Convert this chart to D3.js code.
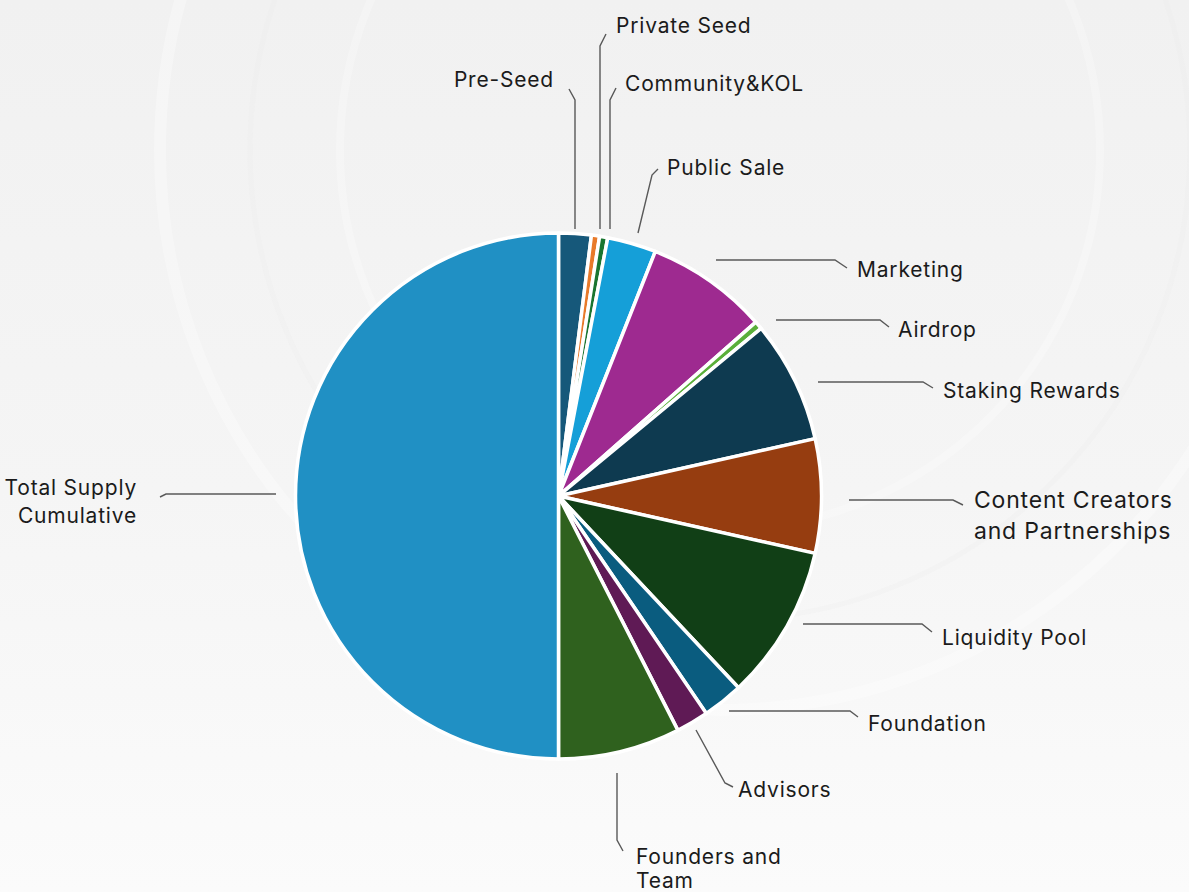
<!DOCTYPE html>
<html>
<head>
<meta charset="utf-8">
<script src="https://cdn.jsdelivr.net/npm/d3@7"></script>
<style>
  html, body { margin: 0; padding: 0; background: #f6f6f6; }
  svg { display: block; }
  text { font-family: Inter, "Noto Sans", sans-serif; fill: #1b1b1b; }
</style>
</head>
<body>
<svg id="chart" width="1189" height="892"></svg>
<script>
// ---- data ----
const categories = [
  "Pre-Seed", "Private Seed", "Community&KOL", "Public Sale", "Marketing", "Airdrop",
  "Staking Rewards", "Content Creators and Partnerships", "Liquidity Pool", "Foundation",
  "Advisors", "Founders and Team", "Total Supply Cumulative"
];
const values = [2, 0.5, 0.5, 3, 7.5, 0.5, 7.5, 7, 9.5, 2.5, 2, 7.5, 50];
const labelLines = [
  ["Pre-Seed"], ["Private Seed"], ["Community&KOL"], ["Public Sale"], ["Marketing"], ["Airdrop"],
  ["Staking Rewards"], ["Content Creators", "and Partnerships"], ["Liquidity Pool"], ["Foundation"],
  ["Advisors"], ["Founders and", "Team"], ["Total Supply", "Cumulative"]
];

// ---- styling / layout (not data) ----
const colors = ["#16587a", "#e87a2a", "#1a7530", "#159fd8", "#9e2a90", "#5aaf3a",
  "#0e3a50", "#963d10", "#113f16", "#0a5c7f", "#5f1a55", "#2f611e", "#2090c4"];
// leader line points and text anchor for each label
const labelLayout = [
  { pts: [[575,229],[575,100],[569,89]],  tx: 554, ty: 87,  anchor: "end",   lh: 28, fs: 21 },
  { pts: [[600,229],[600,46],[606,34]],   tx: 616, ty: 33,  anchor: "start", lh: 28, fs: 21 },
  { pts: [[610,229],[610,100],[616,88]],  tx: 625, ty: 91,  anchor: "start", lh: 28, fs: 21 },
  { pts: [[638,233],[652,175],[658,169]], tx: 667, ty: 175, anchor: "start", lh: 28, fs: 21 },
  { pts: [[716,260],[835,260],[847,268]], tx: 857, ty: 277, anchor: "start", lh: 28, fs: 21 },
  { pts: [[776,320],[880,320],[889,327]], tx: 898, ty: 337, anchor: "start", lh: 28, fs: 21 },
  { pts: [[818,382],[923,382],[933,388]], tx: 943, ty: 398, anchor: "start", lh: 28, fs: 21 },
  { pts: [[849,500],[953,500],[963,505]], tx: 974, ty: 508, anchor: "start", lh: 31, fs: 23 },
  { pts: [[803,624],[922,624],[932,632]], tx: 942, ty: 645, anchor: "start", lh: 28, fs: 21 },
  { pts: [[729,711],[850,711],[858,717]], tx: 868, ty: 731, anchor: "start", lh: 28, fs: 21 },
  { pts: [[696,730],[725,783],[733,787]], tx: 738, ty: 797, anchor: "start", lh: 28, fs: 21 },
  { pts: [[617,773],[617,840],[623,851]], tx: 636, ty: 864, anchor: "start", lh: 24, fs: 21 },
  { pts: [[276,494],[166,494],[160,497]], tx: 137, ty: 495, anchor: "end",   lh: 28, fs: 21 }
];

const W = 1189, H = 892;
const cx = 558.5, cy = 496, R = 263;
const svg = d3.select("#chart");

// background
const defs = svg.append("defs");
const bg = defs.append("linearGradient").attr("id", "bg").attr("x1", 0).attr("y1", 0).attr("x2", 0).attr("y2", 1);
bg.append("stop").attr("offset", "0%").attr("stop-color", "#f1f1f1");
bg.append("stop").attr("offset", "55%").attr("stop-color", "#f5f5f5");
bg.append("stop").attr("offset", "100%").attr("stop-color", "#fbfbfb");
svg.append("rect").attr("width", W).attr("height", H).attr("fill", "url(#bg)");
// faint decorative rings
const deco = svg.append("g").attr("fill", "none");
deco.append("circle").attr("cx", 720).attr("cy", 150).attr("r", 560).attr("stroke", "#ffffff").attr("stroke-width", 12).attr("opacity", 0.3);
deco.append("circle").attr("cx", 720).attr("cy", 150).attr("r", 470).attr("stroke", "#ebebeb").attr("stroke-width", 5).attr("opacity", 0.25);
deco.append("circle").attr("cx", 720).attr("cy", 150).attr("r", 380).attr("stroke", "#ffffff").attr("stroke-width", 8).attr("opacity", 0.25);

// pie
const pie = d3.pie().sort(null).value(d => d.value);
const arcs = pie(categories.map((c, i) => ({ name: c, value: values[i], idx: i })));
const arc = d3.arc().innerRadius(0).outerRadius(R);

const g = svg.append("g").attr("transform", `translate(${cx},${cy})`);
g.selectAll("path.slice").data(arcs).join("path")
  .attr("class", "slice")
  .attr("d", arc)
  .attr("fill", d => colors[d.data.idx])
  .attr("stroke", "#ffffff")
  .attr("stroke-width", 3.5)
  .attr("stroke-linejoin", "round");

// labels
const line = d3.line();
const lg = svg.append("g");
arcs.forEach(d => {
  const L = labelLayout[d.data.idx];
  lg.append("path").attr("d", line(L.pts))
    .attr("fill", "none").attr("stroke", "#595959").attr("stroke-width", 1.4);
  const t = lg.append("text").attr("x", L.tx).attr("y", L.ty)
    .attr("text-anchor", L.anchor).attr("font-size", L.fs)
    .attr("letter-spacing", 0.8);
  labelLines[d.data.idx].forEach((s, k) => {
    t.append("tspan").attr("x", L.tx).attr("dy", k === 0 ? 0 : L.lh).text(s);
  });
});
</script>
</body>
</html>
